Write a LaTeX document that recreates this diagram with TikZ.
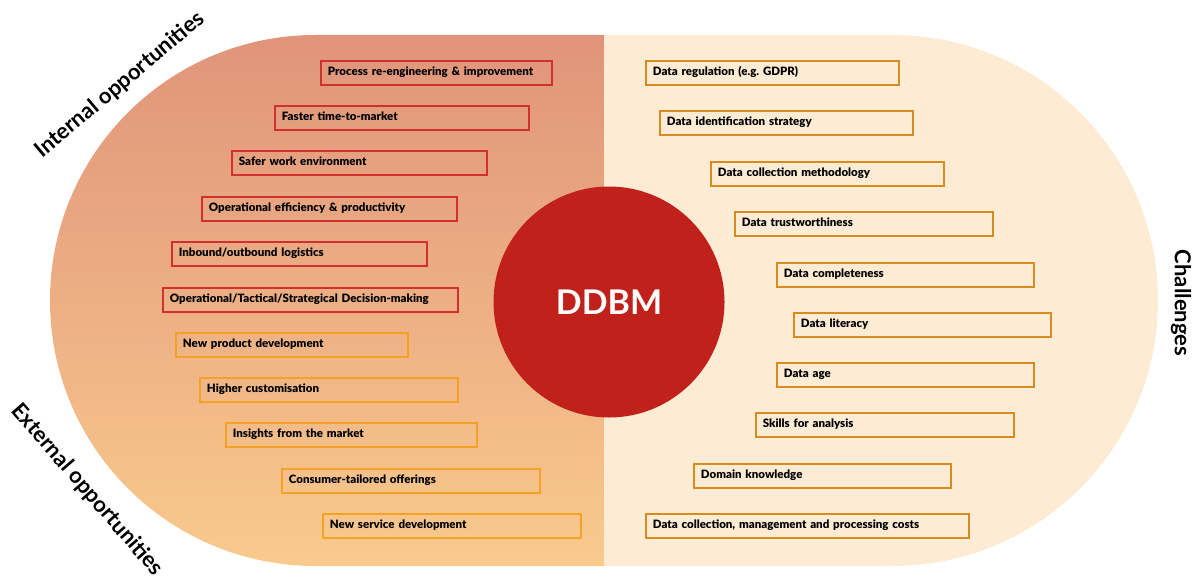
\documentclass[tikz,border=0pt]{standalone}
\usepackage{fontspec}
\setmainfont{Lato}
\newfontfamily\heavyfont{Lato Black}
\usepackage{tikz}
\usetikzlibrary{positioning}
\definecolor{ddbmred}{HTML}{C0211A}
\definecolor{opptop}{HTML}{E0947A}
\definecolor{oppbot}{HTML}{F9CA8D}
\definecolor{chalbg}{HTML}{FDEBD3}
\definecolor{intred}{HTML}{D2302F}
\definecolor{extorange}{HTML}{F4A125}
\definecolor{chalorange}{HTML}{D98B1E}
\tikzset{
 item/.style={draw, line width=1.8pt, anchor=north west, minimum height=24pt,
  inner xsep=7pt, inner ysep=0pt, text height=8.5pt, text depth=2.5pt, align=left,
  font=\heavyfont\fontsize{11.5}{13}\selectfont},
 intbox/.style={item, draw=intred},
 extbox/.style={item, draw=extorange},
 chalbox/.style={item, draw=chalorange},
 sidelabel/.style={font=\bfseries\fontsize{22}{26}\selectfont}
}

\begin{document}
\begin{tikzpicture}[x=1pt,y=-1pt]
\useasboundingbox (0,0) rectangle (1193,578);
\shade[top color=opptop, bottom color=oppbot] (604,35) -- (315.5,35) arc (270:90:265.5) -- (604,566) -- cycle;
\fill[chalbg] (604,35) -- (892.5,35) arc (-90:90:265.5) -- (604,566) -- cycle;
\node[circle, fill=ddbmred, minimum size=231pt, inner sep=0pt, text=white,
 font=\bfseries\fontsize{34}{40}\selectfont] (ddbm) at (609,302) {DDBM};
\foreach \x/\y/\w/\t [count=\i, evaluate=\w as \tw using \w-14] in
 {320/60/231/{Process re-engineering \& improvement},
  274/105/254/{Faster time-to-market},
  231/150/255/{Safer work environment},
  201/196/255/{Operational efficiency \& productivity},
  171/241/255/{Inbound/outbound logistics},
  162/287/295/{Operational/Tactical/Strategical Decision-making}}
 \node[intbox, text width=\tw pt] (int\i) at (\x,\y) {\t};
\foreach \x/\y/\w/\t [count=\i, evaluate=\w as \tw using \w-14] in
 {175/332/232/{New product development},
  199/377/258/{Higher customisation},
  225/422/251/{Insights from the market},
  281/468/258/{Consumer-tailored offerings},
  322/513/258/{New service development}}
 \node[extbox, text width=\tw pt] (ext\i) at (\x,\y) {\t};
\foreach \x/\y/\w/\t [count=\i, evaluate=\w as \tw using \w-14] in
 {645/60/253/{Data regulation (e.g.\ GDPR)},
  659/110/253/{Data identification strategy},
  710/161/233/{Data collection methodology},
  734/211/258/{Data trustworthiness},
  776/262/257/{Data completeness},
  793/312/257/{Data literacy},
  776/362/257/{Data age},
  755/412/258/{Skills for analysis},
  693/463/257/{Domain knowledge},
  645/513/323/{Data collection, management and processing costs}}
 \node[chalbox, text width=\tw pt] (chal\i) at (\x,\y) {\t};
\node[sidelabel, rotate=40] (intlab) at (120,85) {Internal opportunities};
\node[sidelabel, rotate=-49] (extlab) at (87,490) {External opportunities};
\node[sidelabel, rotate=-90] (challab) at (1181,303) {Challenges};
\end{tikzpicture}
\end{document}
